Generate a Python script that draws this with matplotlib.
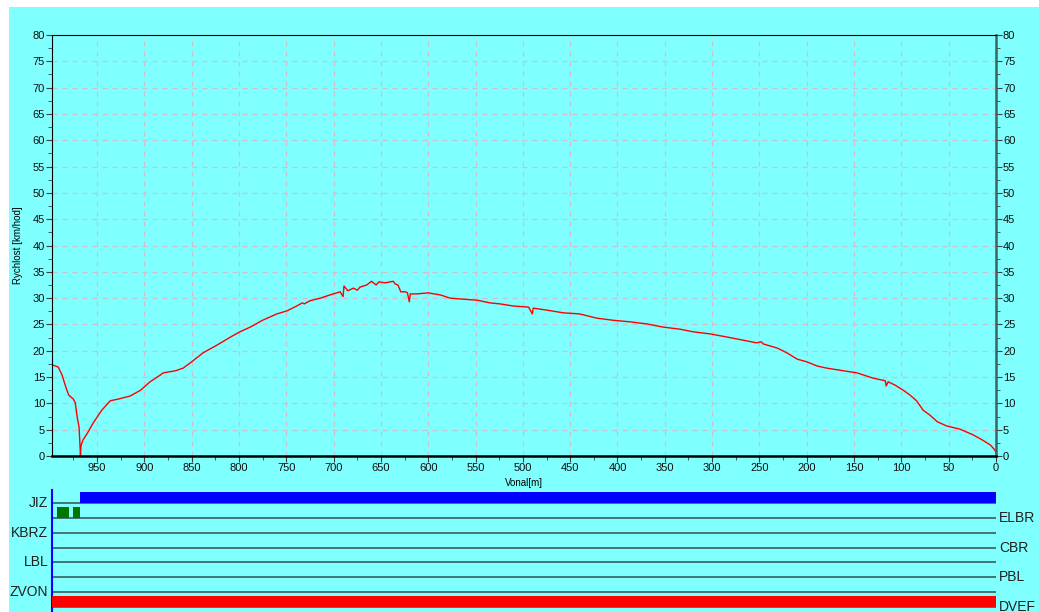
import matplotlib.pyplot as plt
from matplotlib.patches import Rectangle
from matplotlib.ticker import MultipleLocator

# speed profile: distance [m] -> speed [km/h]
distance = [997, 991, 987, 983, 980, 975, 973, 971, 969, 968, 967.5, 967, 965, 960,
            954, 945, 936, 928, 915, 904, 894, 883, 880, 867, 859, 850, 838, 823,
            809, 799, 788, 775, 760, 749, 739, 733, 731, 725, 714, 704, 693, 690,
            689, 685, 679, 675, 672, 665, 660, 655, 652, 646, 637, 635, 632, 629,
            624, 622, 620, 619, 612, 600, 587, 577, 563, 548, 535, 524, 510, 494,
            490, 489, 474, 457, 440, 422, 405, 387, 369, 352, 334, 320, 302, 284,
            267, 253, 248, 246, 231, 221, 210, 200, 189, 179, 165, 147, 130, 117,
            116, 114, 107, 98, 91, 84, 77, 70, 62, 52, 38, 24, 14, 6, 1, 0]
speed = [17.3, 16.9, 15.4, 13.1, 11.6, 10.8, 10.1, 7.4, 5.5, 1.9, 0.0, 1.9, 3.0, 4.4,
         6.3, 8.7, 10.5, 10.8, 11.4, 12.5, 14.1, 15.4, 15.8, 16.2, 16.7, 17.9, 19.6, 21.1,
         22.6, 23.6, 24.5, 25.8, 27.0, 27.6, 28.5, 29.1, 28.9, 29.5, 30.0, 30.6, 31.2, 30.3,
         32.3, 31.4, 31.9, 31.5, 32.1, 32.5, 33.2, 32.5, 33.1, 32.9, 33.2, 32.7, 32.5, 31.2,
         31.2, 31.0, 29.3, 30.8, 30.8, 31.0, 30.6, 30.0, 29.8, 29.6, 29.1, 28.9, 28.5, 28.3,
         27.0, 28.1, 27.7, 27.2, 27.0, 26.2, 25.8, 25.5, 25.1, 24.5, 24.1, 23.6, 23.2, 22.6,
         22.0, 21.5, 21.7, 21.3, 20.5, 19.6, 18.4, 17.9, 17.1, 16.7, 16.3, 15.8, 14.8, 14.3,
         13.3, 14.1, 13.5, 12.5, 11.6, 10.5, 8.7, 7.8, 6.5, 5.7, 5.1, 4.0, 3.0, 2.1, 1.1, 0.6]

# signal tracks below the chart
left_labels = ["JIZ", "KBRZ", "LBL", "ZVON"]
right_labels = ["ELBR", "CBR", "PBL", "DVEF"]
# (row, start m, end m, colour)
track_bars = [(0, 968, 0, "#0000ff"),
              (1, 992, 979.5, "#007700"),
              (1, 975, 968, "#007700"),
              (3, 969.3, 968.7, "#ff0000"),
              (7, 997.6, 0, "#ff0000")]

plt.rcParams['font.family'] = ['Liberation Sans', 'DejaVu Sans']
cyan = "#80ffff"
xmax = 997.6

fig = plt.figure(figsize=(10.39, 6.12), dpi=100)
fig.patch.set_facecolor("white")
fig.patches.append(Rectangle((9 / 1039, 0), 1, 1 - 7 / 612, transform=fig.transFigure,
                             facecolor=cyan, edgecolor="none", zorder=-5))

ax = fig.add_axes([52 / 1039, 1 - 456 / 612, 944 / 1039, 421 / 612])
ax.set_facecolor(cyan)
ax.plot(distance, speed, color="#ff0000", lw=1)
ax.set_xlim(xmax, 0)
ax.set_ylim(0, 80)
ax.xaxis.set_major_locator(MultipleLocator(50))
ax.xaxis.set_minor_locator(MultipleLocator(25))
ax.yaxis.set_major_locator(MultipleLocator(5))
ax.yaxis.set_minor_locator(MultipleLocator(2.5))
ax.grid(True, which="major", color="#ccc0cc", ls=(0, (4, 4)), lw=0.9)
ax.tick_params(which="both", direction="out", labelsize=8, colors="#404040",
               labelcolor="#101010", right=True, labelright=True, pad=1)
ax.tick_params(which="major", length=4)
ax.tick_params(which="minor", length=3)
ax.set_xticks([t for t in range(0, 951, 50)])
for side in ["top", "left", "bottom"]:
    ax.spines[side].set_color("black")
ax.spines["bottom"].set_linewidth(1.8)
ax.spines["right"].set_color("#3c6464")
ax.spines["right"].set_linewidth(1.8)
ax.set_xlabel("Vonal[m]", fontsize=7, labelpad=4)
ax.yaxis.set_label_coords(-0.031, 0.5)
ax.set_ylabel("Rychlost [km/hod]", fontsize=7)

# track panel
tr = fig.add_axes([52 / 1039, 0, 944 / 1039, 122 / 612])
tr.set_facecolor(cyan)
tr.set_xlim(xmax, 0)
tr.set_ylim(7.34, -0.875)
for k in range(8):
    tr.axhline(k, color="#2f4f4f", lw=1.1)
for row, x0, x1, col in track_bars:
    tr.add_patch(Rectangle((x1, row - 0.74), x0 - x1, 0.74, facecolor=col,
                           edgecolor="none", zorder=3))
for i, name in enumerate(left_labels):
    tr.text(-0.004, 2 * i, name, transform=tr.get_yaxis_transform(), ha="right",
            va="center", fontsize=10, color="#202020")
for i, name in enumerate(right_labels):
    tr.text(1.003, 2 * i + 1, name, transform=tr.get_yaxis_transform(), ha="left",
            va="center", fontsize=10, color="#202020", clip_on=False)
tr.set_xticks([])
tr.set_yticks([])
for side in ["top", "right", "bottom"]:
    tr.spines[side].set_visible(False)
tr.spines["left"].set_color("#0000ff")
tr.spines["left"].set_linewidth(1.5)

fig.savefig("out.png", dpi=100)
